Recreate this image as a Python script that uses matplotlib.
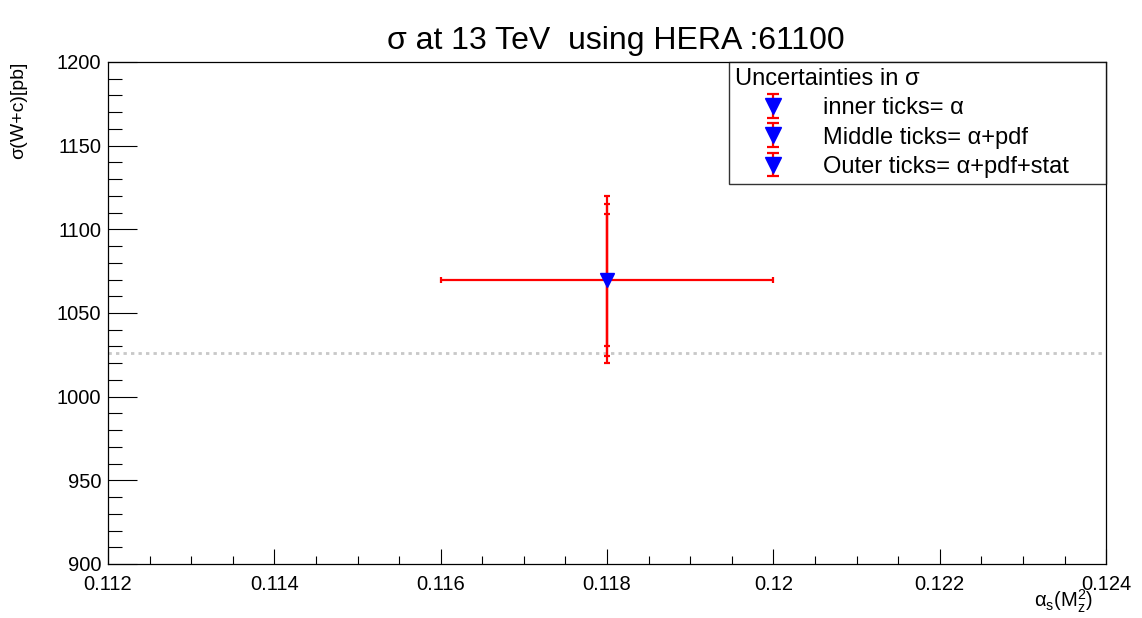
import numpy as np
import matplotlib
matplotlib.use("Agg")
import matplotlib.pyplot as plt
from matplotlib.ticker import MultipleLocator, FormatStrFormatter, FuncFormatter

plt.rcParams['font.family'] = ['Liberation Sans', 'DejaVu Sans']
plt.rcParams['mathtext.fontset'] = 'custom'
plt.rcParams['mathtext.rm'] = 'Liberation Sans'
plt.rcParams['mathtext.it'] = 'Liberation Sans'
plt.rcParams['mathtext.default'] = 'regular'

# Central value of sigma(W+c) at alpha_s(Mz)
alpha_s = [0.118]
sigma = [1070]
alpha_err = [0.002]

# asymmetric uncertainties (down, up) in pb
err_inner = ([39.5], [39])      # alpha
err_middle = ([46], [45])       # alpha+pdf
err_outer = ([50], [50])        # alpha+pdf+stat

ref_sigma = 1026   # dotted reference line

labels = ['inner ticks= α', 'Middle ticks= α+pdf', 'Outer ticks= α+pdf+stat']

fig = plt.figure(figsize=(11.42, 6.18), dpi=100)
ax = fig.add_axes([0.0946, 0.0874, 0.874, 0.8123])

ax.axhline(ref_sigma, color='#c8c8c8', lw=2, ls=(0, (1.2, 1.5)), zorder=1)

for err, xe in zip([err_outer, err_middle, err_inner], [alpha_err, None, None]):
    ax.errorbar(alpha_s, sigma, yerr=err, xerr=xe, fmt='none', ecolor='red',
                elinewidth=1.6, capsize=2.5, capthick=1.6, zorder=2)

ax.plot(alpha_s, sigma, 'v', color='blue', ms=10, zorder=3)

# legend handles: errorbar + triangle marker
leg_handles = []
for lab in labels:
    h = ax.errorbar([np.nan], [np.nan], yerr=[[1], [1]], fmt='v', color='blue',
                    ms=11, ecolor='red', elinewidth=1.6, capsize=4, capthick=1.6)
    leg_handles.append(h)

leg = ax.legend(leg_handles, labels, title='Uncertainties in σ',
                bbox_to_anchor=(0.622, 0.749, 0.378, 0.251), loc='upper left',
                mode='expand', borderaxespad=0, fontsize=17, title_fontsize=17,
                frameon=True, fancybox=False, handlelength=3.2, handletextpad=0.55,
                labelspacing=0.31, borderpad=0.25, alignment='left')
leg.get_frame().set_edgecolor('black')
leg.get_frame().set_linewidth(1.0)

ax.set_xlim(0.112, 0.124)
ax.set_ylim(900, 1200)
ax.xaxis.set_major_locator(MultipleLocator(0.002))
ax.xaxis.set_minor_locator(MultipleLocator(0.0005))
ax.yaxis.set_major_locator(MultipleLocator(50))
ax.yaxis.set_minor_locator(MultipleLocator(10))
ax.xaxis.set_major_formatter(FuncFormatter(lambda v, p: '%g' % round(v, 4)))
ax.yaxis.set_major_formatter(FormatStrFormatter('%d'))

ax.tick_params(axis='both', which='both', direction='in', top=False, right=False,
               labelsize=14.5, width=0.8)
ax.tick_params(axis='y', which='major', length=21, pad=5)
ax.tick_params(axis='y', which='minor', length=10)
ax.tick_params(axis='x', which='major', length=11, pad=8)
ax.tick_params(axis='x', which='minor', length=6)
for s in ax.spines.values():
    s.set_linewidth(0.9)

fig.text(0.539, 0.92, 'σ at 13 TeV  using HERA :61100', ha='center', va='baseline',
         fontsize=23)
fig.text(0.957, 0.018, r'$\alpha_{s}(M_{z}^{2})$', ha='right', va='baseline',
         fontsize=14.5)
fig.text(0.009, 0.9, 'σ(W+c)[pb]', ha='left', va='top', rotation=90, fontsize=14)

fig.savefig('out.png', dpi=100)
